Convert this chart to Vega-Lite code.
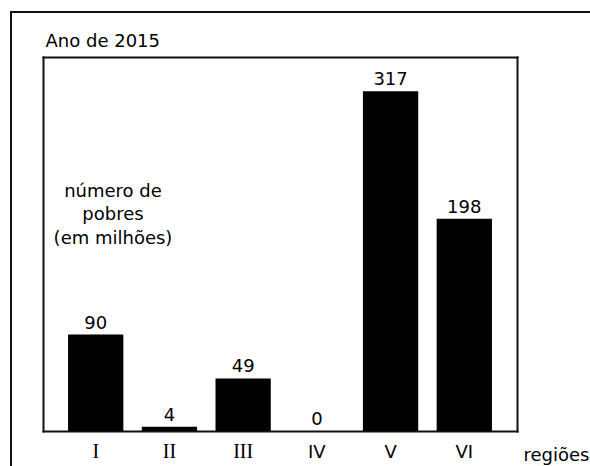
{
  "$schema": "https://vega.github.io/schema/vega-lite/v6.json",
  "width": 590,
  "height": 470,
  "autosize": "none",
  "padding": {"left": 11, "top": 12, "right": 0, "bottom": 0},
  "background": "white",
  "config": {
    "view": {"stroke": "#111", "strokeWidth": 2},
    "font": "DejaVu Sans",
    "axis": {
      "grid": false,
      "ticks": false,
      "tickSize": 0,
      "domainColor": "#111",
      "domainWidth": 2,
      "domainCap": "square",
      "labelColor": "black",
      "titleColor": "black",
      "titleFontWeight": "normal",
      "titleFont": "DejaVu Sans",
      "titleFontSize": 18
    }
  },
  "data": {
    "values": [
      {"regiao": "I", "pobres": 90},
      {"regiao": "II", "pobres": 4},
      {"regiao": "III", "pobres": 49},
      {"regiao": "IV", "pobres": 0},
      {"regiao": "V", "pobres": 317},
      {"regiao": "VI", "pobres": 198}
    ]
  },
  "layer": [
    {
      "mark": {"type": "bar", "color": "black"},
      "encoding": {
        "x": {
          "field": "regiao",
          "type": "nominal",
          "sort": null,
          "scale": {"range": [32, 506], "paddingInner": 0.25, "paddingOuter": 0.34},
          "axis": {
            "orient": "bottom",
            "offset": -51,
            "labelAngle": 0,
            "labelPadding": 26,
            "labelBaseline": "alphabetic",
            "labelFont": {"condition": {"test": "datum.value === 'I' || datum.value === 'II' || datum.value === 'III'", "value": "Liberation Serif"}, "value": "DejaVu Sans"},
            "labelFontSize": {"condition": {"test": "datum.value === 'I' || datum.value === 'II' || datum.value === 'III'", "value": 20}, "value": 18},
            "title": "regiões",
            "titleAlign": "left",
            "titleBaseline": "alphabetic",
            "titleX": 512,
            "titleY": 29
          }
        },
        "y": {
          "field": "pobres",
          "type": "quantitative",
          "scale": {"domain": [0, 349], "range": [419, 45], "nice": false, "zero": true},
          "axis": {
            "orient": "left",
            "offset": -32,
            "labels": false,
            "title": ["número de", "pobres", "(em milhões)"],
            "titleAngle": 0,
            "titleAlign": "center",
            "titleBaseline": "alphabetic",
            "titleX": 69.5,
            "titleY": 184,
            "titleLineHeight": 23.5
          }
        }
      }
    },
    {
      "mark": {"type": "text", "baseline": "alphabetic", "dy": -6, "fontSize": 18, "font": "DejaVu Sans", "color": "black"},
      "encoding": {
        "x": {
          "field": "regiao",
          "type": "nominal",
          "sort": null,
          "axis": {
            "orient": "top",
            "offset": -45,
            "labels": false,
            "title": "Ano de 2015",
            "titleAnchor": "start",
            "titleAlign": "left",
            "titleBaseline": "alphabetic",
            "titleX": 34,
            "titleY": -11
          }
        },
        "y": {
          "field": "pobres",
          "type": "quantitative",
          "axis": {"orient": "right", "offset": -84, "labels": false, "title": null}
        },
        "text": {"field": "pobres", "type": "quantitative"}
      }
    }
  ],
  "resolve": {"axis": {"x": "independent", "y": "independent"}}
}
